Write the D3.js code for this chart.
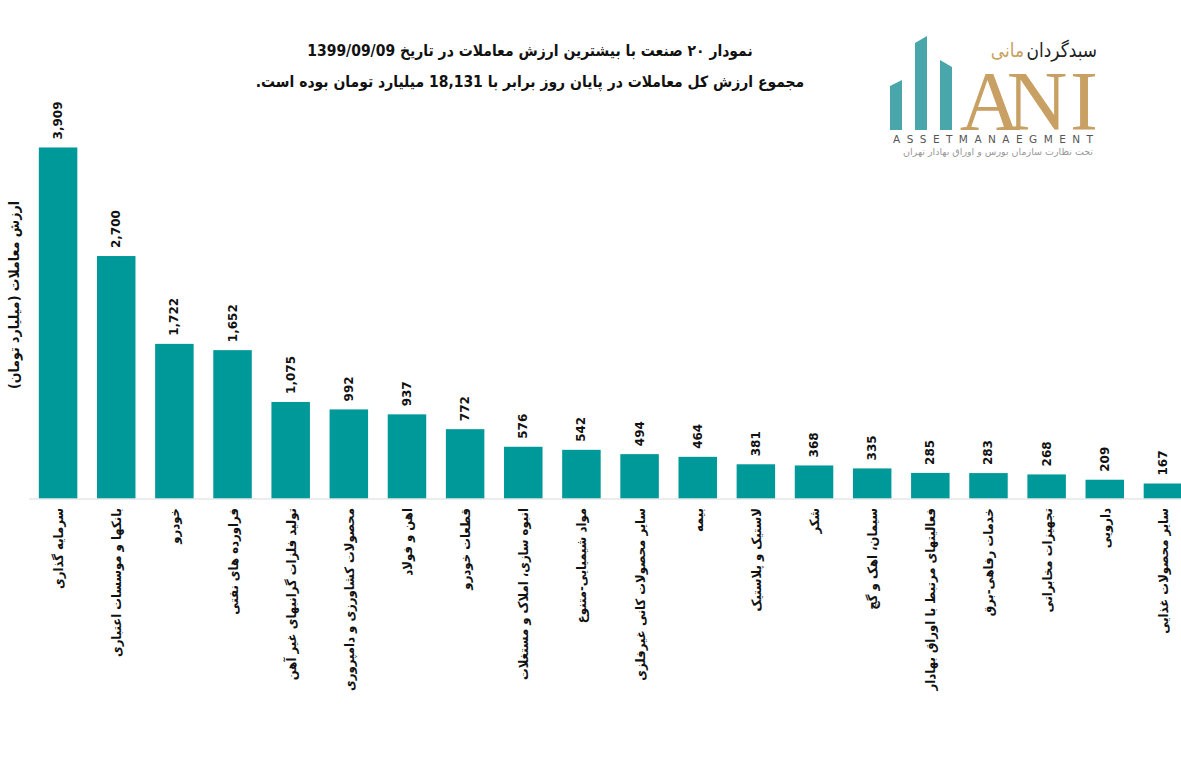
<!DOCTYPE html>
<html><head><meta charset="utf-8">
<script src="https://cdn.jsdelivr.net/npm/d3@7"></script>
<style>
body{margin:0;background:#fff;}
svg{display:block;font-family:"DejaVu Sans Condensed","DejaVu Sans",sans-serif;}
</style></head><body>
<svg id="c" width="1181" height="766"></svg>
<script>
const categories = [
  "سرمایه گذاری",
  "بانکها و موسسات اعتباری",
  "خودرو",
  "فراورده های نفتی",
  "تولید فلزات گرانبهای غیر آهن",
  "محصولات کشاورزی و دامپروری",
  "اهن و فولاد",
  "قطعات خودرو",
  "انبوه سازی، املاک و مستغلات",
  "مواد شیمیایی-متنوع",
  "سایر محصولات کانی غیرفلزی",
  "بیمه",
  "لاستیک و پلاستیک",
  "شکر",
  "سیمان، اهک و گچ",
  "فعالیتهای مرتبط با اوراق بهادار",
  "خدمات رفاهی-برق",
  "تجهیزات مخابراتی",
  "دارویی",
  "سایر محصولات غذایی"
];
const values = [3909, 2700, 1722, 1652, 1075, 992, 937, 772, 576, 542, 494, 464, 381, 368, 335, 285, 283, 268, 209, 167];
const titleLines = [
  "نمودار  ۲۰ صنعت با بیشترین ارزش معاملات در تاریخ 1399/09/09",
  "مجموع ارزش  کل معاملات در پایان روز برابر با 18,131 میلیارد تومان بوده است."
];
const yTitle = "ارزش معاملات (میلیارد تومان)";

const svg = d3.select("#c");
const x = d3.scaleBand().domain(categories).range([29, 1192]).paddingInner(0.338).paddingOuter(0.169);
const y = d3.scaleLinear().domain([0, 4000]).range([498.5, 139.3]);
const data = categories.map((c, i) => ({c, v: values[i]}));

// bars
svg.append("g").selectAll("rect").data(data).join("rect")
  .attr("x", d => x(d.c)).attr("width", x.bandwidth())
  .attr("y", d => y(d.v)).attr("height", d => y(0) - y(d.v))
  .attr("fill", "#009999");

// axis line
svg.append("line").attr("x1", 29).attr("x2", 1181).attr("y1", 499).attr("y2", 499)
  .attr("stroke", "#d9d9d9").attr("stroke-width", 1.2);

// value labels
svg.append("g").selectAll("text").data(data).join("text")
  .attr("transform", d => `translate(${x(d.c) + x.bandwidth()/2 + 4},${y(d.v) - 8}) rotate(-90)`)
  .attr("text-anchor", "start")
  .attr("font-family", "DejaVu Sans, sans-serif")
  .attr("font-size", 12).attr("font-weight", "bold").attr("fill", "#111")
  .text(d => d3.format(",")(d.v));

// category labels
svg.append("g").selectAll("text").data(data).join("text")
  .attr("transform", d => `translate(${x(d.c) + x.bandwidth()/2 + 5},508) rotate(-90)`)
  .attr("direction", "rtl")
  .attr("text-anchor", "start")
  .attr("font-size", 13).attr("font-weight", "bold").attr("fill", "#111")
  .text(d => d.c);

// y title
svg.append("text")
  .attr("transform", "translate(19,295) rotate(-90)")
  .attr("direction", "rtl").attr("text-anchor", "middle")
  .attr("font-size", 14).attr("font-weight", "bold").attr("fill", "#111")
  .text(yTitle);

// title
svg.append("g").selectAll("text").data(titleLines).join("text")
  .attr("x", 530).attr("y", (d, i) => 56 + i * 31)
  .attr("direction", "rtl").attr("text-anchor", "middle")
  .attr("font-size", 15.5).attr("font-weight", "bold").attr("fill", "#111")
  .text(d => d);

// logo
const logo = svg.append("g");
const teal = "#49a6ab", gold = "#c9a063";
[[890,86,902,80],[915,43,927,36],[940,60,952,67]].forEach(b => {
  logo.append("polygon").attr("points", `${b[0]},${b[1]} ${b[2]},${b[3]} ${b[2]},130 ${b[0]},130`).attr("fill", teal);
});
[["A", 990], ["N", 1037], ["I", 1084]].forEach(l => {
  logo.append("text").attr("x", l[1]).attr("y", 130).attr("text-anchor", "middle")
    .attr("font-family", "Liberation Serif, serif").attr("font-size", 84).attr("fill", gold).text(l[0]);
});
logo.append("text").attr("transform", "translate(1097,57) scale(1,1.15)").attr("direction", "rtl").attr("text-anchor", "start")
  .attr("font-family", "DejaVu Sans, sans-serif")
  .attr("font-size", 17).attr("fill", "#222").text("سبدگردان");
logo.append("text").attr("transform", "translate(1024,57) scale(1,1.15)").attr("direction", "rtl").attr("text-anchor", "start")
  .attr("font-family", "DejaVu Sans, sans-serif")
  .attr("font-size", 17).attr("fill", gold).text("مانی");
logo.append("text").attr("x", 893).attr("y", 143).attr("textLength", 200).attr("lengthAdjust", "spacing")
  .attr("font-family", "DejaVu Sans, sans-serif")
  .attr("font-size", 10.5).attr("fill", "#555").text("ASSETMANAEGMENT");
logo.append("text").attr("x", 1093).attr("y", 155).attr("direction", "rtl").attr("text-anchor", "start")
  .attr("font-family", "DejaVu Sans, sans-serif")
  .attr("font-size", 9.5).attr("fill", "#999").text("تحت نظارت سازمان بورس و اوراق بهادار تهران");
</script>
</body></html>
